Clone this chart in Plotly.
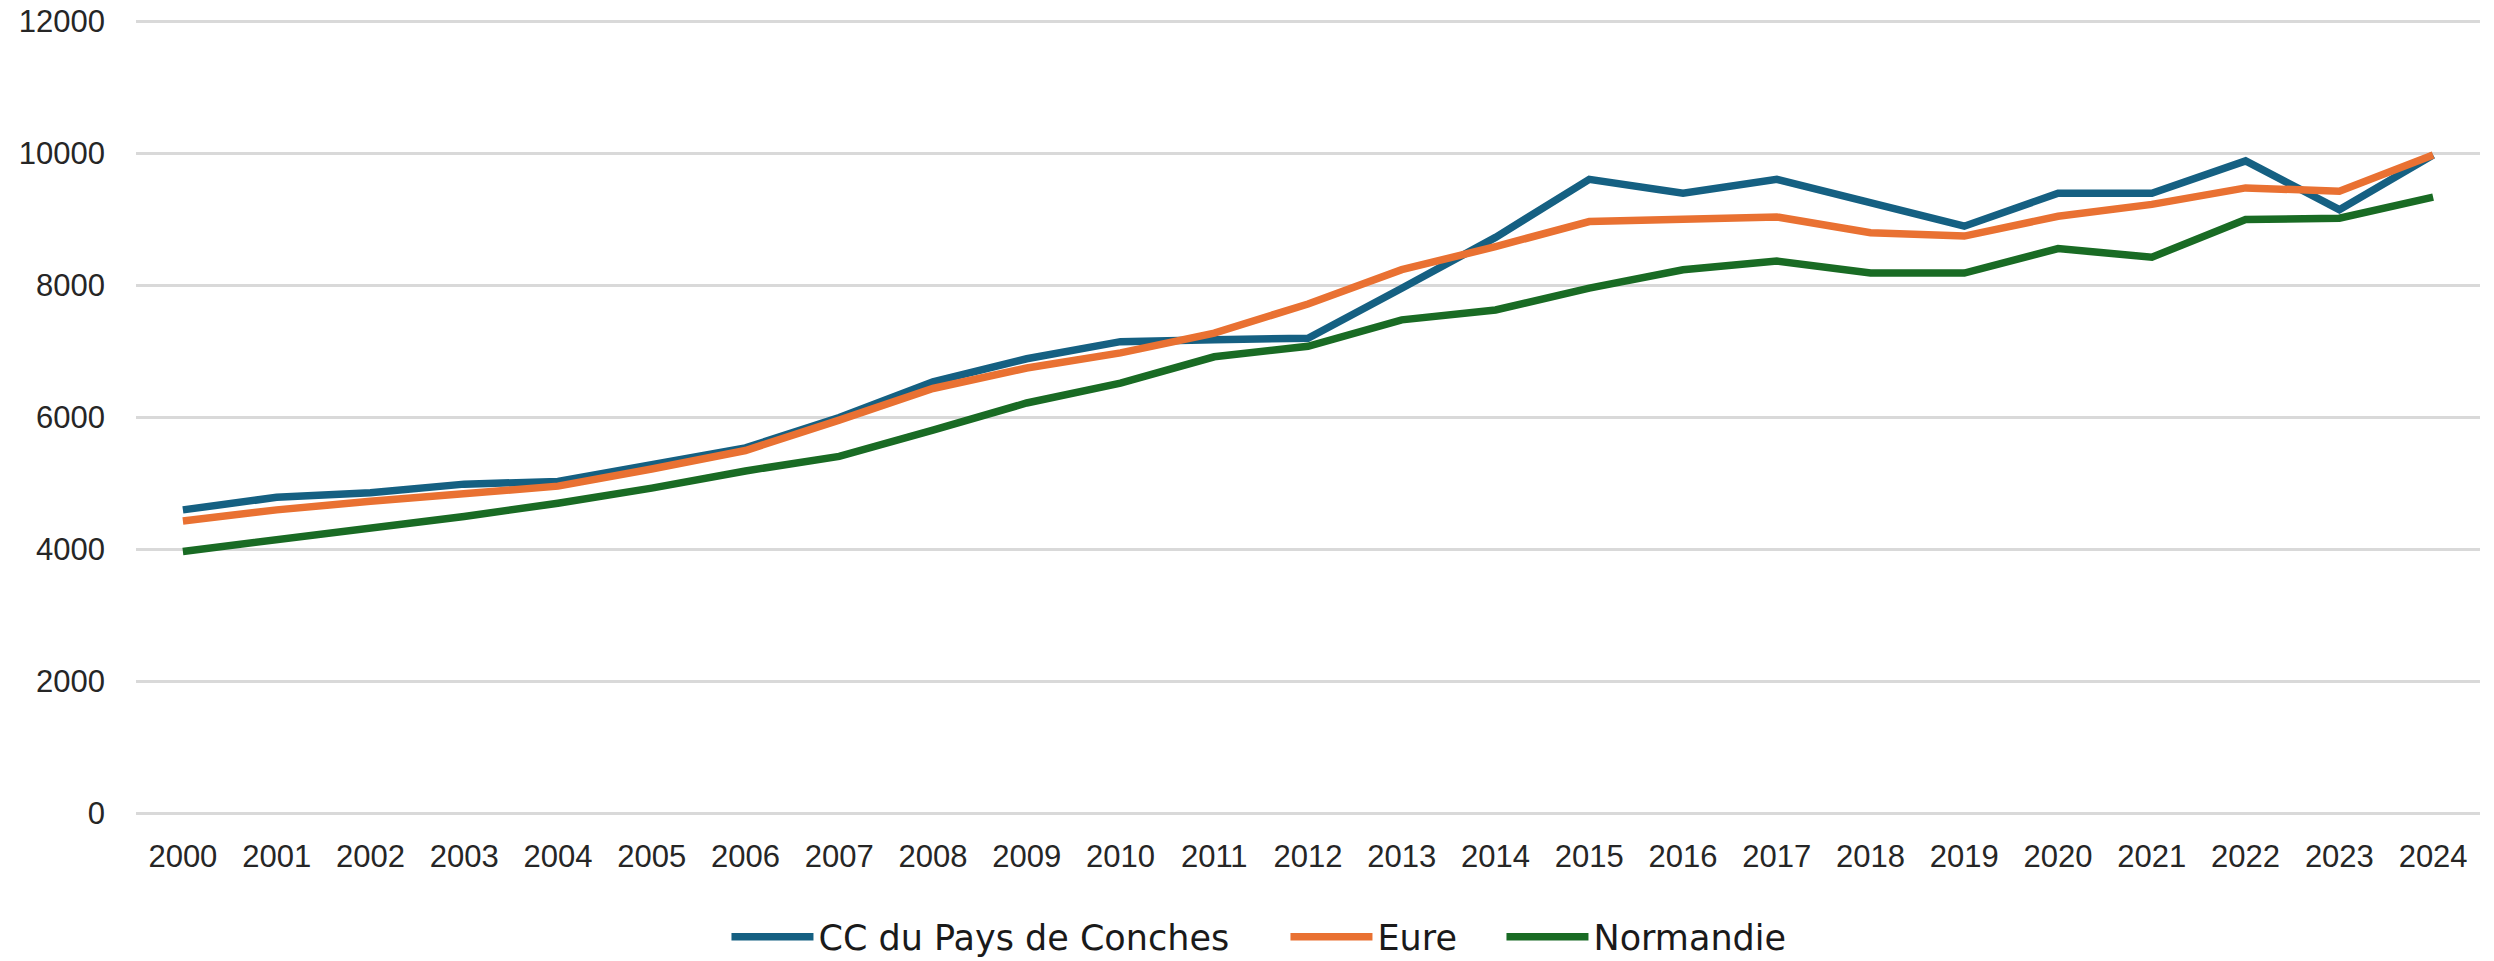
import plotly.graph_objects as go

years = [str(y) for y in range(2000, 2025)]

cc_conches = [4600, 4790, 4860, 4990, 5030, 5280, 5540, 6000, 6540, 6890, 7150, 7180, 7200,
              7960, 8730, 9610, 9400, 9610, 9250, 8900, 9400, 9400, 9890, 9150, 9980]
eure = [4430, 4600, 4730, 4850, 4960, 5220, 5500, 5960, 6440, 6750, 6980, 7280, 7720,
        8240, 8590, 8970, 9000, 9040, 8800, 8750, 9050, 9230, 9480, 9430, 9980]
normandie = [3970, 4150, 4310, 4500, 4700, 4930, 5190, 5410, 5810, 6220, 6520, 6920, 7080,
             7480, 7630, 7960, 8240, 8370, 8190, 8190, 8560, 8430, 9000, 9020, 9340]

series_names = ["CC du Pays de Conches", "Eure", "Normandie"]
series_values = [cc_conches, eure, normandie]
series_colors = ["#156082", "#E97132", "#196B24"]
legend_widths = [462, 119, None]

y_ticks = [0, 2000, 4000, 6000, 8000, 10000, 12000]

fig = go.Figure()
for name, vals, col, lw in zip(series_names, series_values, series_colors, legend_widths):
    tr = go.Scatter(x=years, y=vals, name=name, mode="lines",
                    line=dict(color=col, width=7.5))
    if lw:
        tr.legendwidth = lw
    fig.add_trace(tr)

fig.update_layout(
    width=2494, height=975,
    margin=dict(l=136, r=14, t=19, b=159, autoexpand=False),
    paper_bgcolor="white", plot_bgcolor="white",
    showlegend=True,
    legend=dict(
        orientation="h", xref="container", yref="container",
        x=0.5048, xanchor="center", y=0.039, yanchor="middle",
        font=dict(family="DejaVu Sans", size=35, color="#1a1a1a"),
        itemwidth=82, traceorder="normal",
    ),
    xaxis=dict(
        type="category", range=[-0.5, 24.5], showgrid=False, showline=False,
        zeroline=False, ticks="", ticklabelstandoff=19, automargin=False,
        tickfont=dict(family="Liberation Sans", size=31, color="#262626"),
    ),
    yaxis=dict(
        range=[-40, 12040], tickvals=y_ticks, tickformat="d", showgrid=True,
        gridcolor="#d9d9d9", gridwidth=3, zeroline=False, showline=False, ticks="",
        ticklabelstandoff=30, automargin=False, ticklabeloverflow="allow",
        tickfont=dict(family="Liberation Sans", size=31, color="#262626"),
    ),
)

fig.write_html("out.html", config={"displayModeBar": False},
               post_script="document.body.style.margin='0';")
